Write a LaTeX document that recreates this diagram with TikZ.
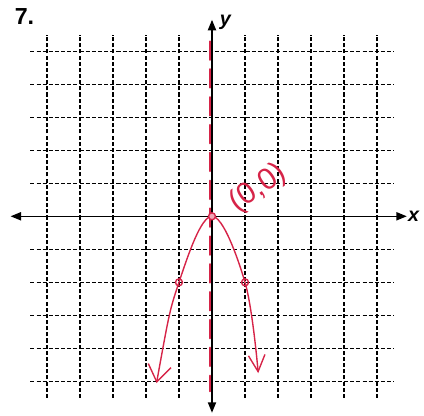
\documentclass[tikz,border=0pt]{standalone}
\usepackage{fontspec}
\setmainfont{Liberation Sans}
\usetikzlibrary{arrows.meta}
\definecolor{penred}{RGB}{214,36,72}

\begin{document}
\begin{tikzpicture}[
        x=1cm, y=1cm,
        gridline/.style={black, line width=1.1pt, dash pattern=on 3.5pt off 1.8pt},
        axisline/.style={black, line width=1.3pt, {Triangle[length=9pt,width=7pt]}-{Triangle[length=9pt,width=7pt]}},
        pen/.style={penred, line width=1.2pt, line cap=round},
        axislabel/.style={font=\bfseries\itshape\fontsize{17}{17}\selectfont},
        dot/.style={pen, circle, draw, inner sep=0pt, minimum size=6pt}
    ]
        \useasboundingbox (-6.42,-6.03) rectangle (6.42,6.55);

        % Grid (dashed)
        \foreach \k in {-5,...,-1,1,2,3,4,5} {
            \draw[gridline] (\k,-5.5) -- (\k,5.5);
            \draw[gridline] (-5.5,\k) -- (5.5,\k);
        }

        % Axis of symmetry
        \coordinate (st) at (-0.07,5.3);
        \coordinate (sb) at (-0.07,-5.3);
        \draw[pen, line width=1.6pt, dash pattern=on 16pt off 8pt] (st) -- (sb);

        % Axes
        \coordinate (xl) at (-6.1,0);
        \coordinate (xr) at (5.9,0);
        \coordinate (yb) at (0,-5.95);
        \coordinate (yt) at (0,5.95);
        \draw[axisline] (xl) -- (xr);
        \draw[axisline] (yb) -- (yt);
        \node[axislabel, anchor=west, inner sep=1pt] (xlab) at (xr) {x};
        \node[axislabel, anchor=south west, inner sep=1pt] (ylab) at (0.2,5.6) {y};
        \node[font=\bfseries\fontsize{20}{20}\selectfont] (num) at (-5.68,6.05) {7.};

        % Parabola
        \coordinate (left) at (-1.68,-5.05);
        \coordinate (pl) at (-1,-2);
        \coordinate (vtx) at (0,0);
        \coordinate (pr) at (1,-2);
        \coordinate (right) at (1.4,-4.75);
        \draw[pen, {Straight Barb[length=5mm,width=7mm]}-{Straight Barb[length=5mm,width=5mm]}]
            plot[smooth, tension=0.6] coordinates {(left) (pl) (vtx) (pr) (right)};
        \node[dot, fill=penred!40] (v0) at (vtx) {};
        \node[dot] (p1) at (pl) {};
        \node[dot] (p2) at (pr) {};

        % Vertex label
        \node[penred, rotate=35, font=\fontsize{26}{26}\selectfont] (vlab) at (1.4,0.85) {(0,0)};
    \end{tikzpicture}
\end{document}
